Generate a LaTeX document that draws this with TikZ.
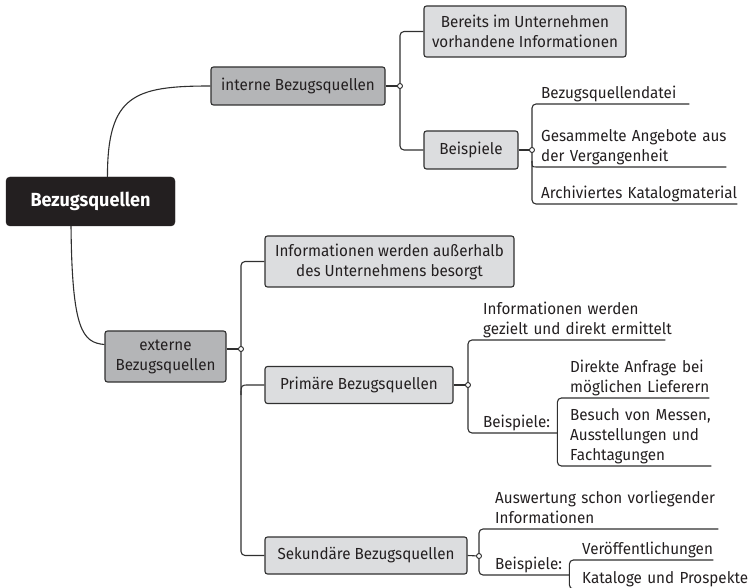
\documentclass[tikz,border=0pt]{standalone}
\usepackage{fontspec}
\setmainfont{Fira Sans}[FakeStretch=0.95]
\usetikzlibrary{calc}
\definecolor{linec}{HTML}{303030}
\definecolor{txtc}{HTML}{231F20}
\definecolor{rootc}{HTML}{231F20}
\definecolor{midg}{HTML}{B4B5B7}
\definecolor{lightg}{HTML}{DCDDDF}
\newcommand{\lst}{\rule[-5pt]{0pt}{5pt}}
\newcommand{\ml}[1]{\mbox{#1}}
\begin{document}
\begin{tikzpicture}[x=1pt,y=-1pt,
  basefont/.style={font=\fontsize{16}{20}\selectfont, text=txtc},
  box/.style={basefont, draw=linec, line width=1.1pt, rounded corners=2.5pt, inner sep=0pt, align=center},
  midbox/.style={box, fill=midg},
  lightbox/.style={box, fill=lightg},
  rootbox/.style={draw=rootc, fill=rootc, rounded corners=4pt, inner sep=0pt, text=white, font=\fontsize{19}{22}\selectfont\bfseries},
  leaf/.style={basefont, anchor=south west, align=left, inner xsep=0pt, inner ysep=0pt},
  conn/.style={draw=linec, line width=1.1pt},
  dot/.style={circle, draw=linec, fill=white, inner sep=0pt, minimum size=5pt, line width=0.9pt}]
\useasboundingbox (0,0) rectangle (753,588);
\clip (0,0) rectangle (753,588);

% main boxes
\node[rootbox, minimum width=169pt, minimum height=49pt] (root) at (90.5,201.5) {Bezugsquellen};
\node[midbox, minimum width=174pt, minimum height=38pt] (interne) at (298,86) {interne Bezugsquellen};
\node[lightbox, minimum width=202pt, minimum height=51pt] (bereits) at (525,31.5) {Bereits im Unternehmen\\vorhandene Informationen};
\node[lightbox, minimum width=94pt, minimum height=38pt] (beisp) at (471,150) {Beispiele};
\node[midbox, minimum width=121pt, minimum height=51pt] (externe) at (165.5,356.5) {externe\\Bezugsquellen};
\node[lightbox, minimum width=249pt, minimum height=51pt] (infoaus) at (389.5,261.5) {Informationen werden außerhalb\\des Unternehmens besorgt};
\node[lightbox, minimum width=188pt, minimum height=37pt] (primaer) at (359,385) {Primäre Bezugsquellen};
\node[lightbox, minimum width=202pt, minimum height=37pt] (sek) at (366,555.5) {Sekundäre Bezugsquellen};

% leaves
\node[leaf, text width=148pt] (l1) at (541,104) {\ml{Bezugsquellendatei}\lst};
\node[leaf, text width=185pt] (l2) at (541,167) {\ml{Gesammelte Angebote aus}\\\ml{der Vergangenheit}\lst};
\node[leaf, text width=196pt] (l3) at (541,204) {\ml{Archiviertes Katalogmaterial}\lst};
\node[leaf, text width=182pt] (l4) at (483,340) {\ml{Informationen werden}\\\ml{gezielt und direkt ermittelt}\lst};
\node[leaf, text width=74pt] (bl1) at (483,433) {\ml{Beispiele:}\lst};
\node[leaf, text width=139pt] (l5) at (570,398) {\ml{Direkte Anfrage bei}\\\ml{möglichen Lieferern}\lst};
\node[leaf, text width=141pt] (l6) at (570,466) {\ml{Besuch von Messen,}\\\ml{Ausstellungen und}\\\ml{Fachtagungen}\lst};
\node[leaf, text width=223pt] (l7) at (495,529) {\ml{Auswertung schon vorliegender}\\\ml{Informationen}\lst};
\node[leaf, text width=74pt] (bl2) at (495,575) {\ml{Beispiele:}\lst};
\node[leaf, text width=131pt] (l8) at (582,560) {\ml{Veröffentlichungen}\lst};
\node[leaf, text width=168pt] (l9) at (582,589) {\ml{Kataloge und Prospekte}\lst};

% junction coordinates
\coordinate (c1) at (400,86);
\coordinate (c2) at (532,150);
\coordinate (c3) at (241,349);
\coordinate (c4) at (468,385);
\coordinate (c5) at (479,556);

% root connectors
\draw[conn] ($(root.north west)!0.6!(root.north east)$) .. controls +(0,-82) and +(-76,0) .. (interne.west);
\draw[conn] ($(root.south west)!0.385!(root.south east)$) .. controls +(1,104) and +(-22,-2) .. ($(externe.north west)!0.27!(externe.south west)$);

% interne
\draw[conn] (interne.east) -- (c1);
\draw[conn, rounded corners=4pt] (bereits.west) -- (bereits.west -| c1) |- (beisp.west);
\draw[conn] (beisp.east) -- (c2);
\draw[conn, rounded corners=4pt] (l1.south east) -- (l1.south west -| c2) |- (l3.south east);
\draw[conn] (l2.south east) -- ($(l2.south west -| c2)+(5,0)$) .. controls (l2.south west -| c2) .. ($(l2.south west -| c2)+(0,-6)$);

% externe
\draw[conn] (externe.east |- c3) -- (c3);
\draw[conn, rounded corners=4pt] (infoaus.west) -- (infoaus.west -| c3) |- (sek.west);
\draw[conn] (primaer.west) -- ($(primaer.west -| c3)+(8,0)$) .. controls (primaer.west -| c3) .. ($(primaer.west -| c3)+(0,10)$);

% primaer
\draw[conn] (primaer.east) -- (c4);
\draw[conn, rounded corners=4pt] (l4.south east) -- (l4.south west -| c4) |- (bl1.south east);
\draw[conn, rounded corners=4pt] (l5.south east) -- (l5.south west -| bl1.south east) |- (l6.south east);

% sekundaer
\draw[conn] (sek.east) -- (c5);
\draw[conn, rounded corners=4pt] (l7.south east) -- (l7.south west -| c5) |- (bl2.south east);
\draw[conn, rounded corners=4pt] (l8.south east) -- (l8.south west -| bl2.south east) |- (l9.south east);

% dots
\foreach \c in {c1,c2,c3,c4,c5} \node[dot] at (\c) {};
\end{tikzpicture}
\end{document}
